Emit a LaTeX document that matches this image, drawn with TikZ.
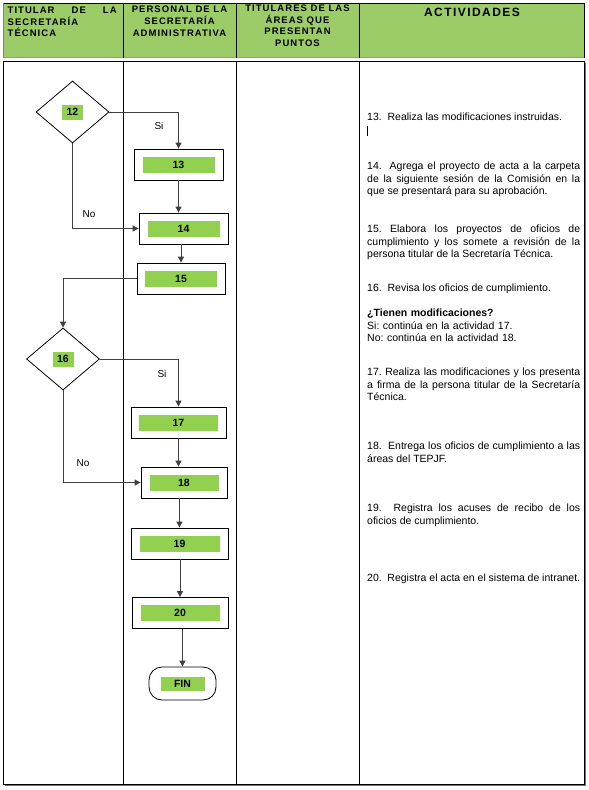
\documentclass[tikz,border=0pt]{standalone}
\usepackage{fontspec}
\setmainfont{Liberation Sans}
\usetikzlibrary{shapes.geometric,arrows.meta}
\setlength{\parindent}{0pt}
\frenchspacing
\hyphenpenalty=10000
\exhyphenpenalty=10000
\definecolor{hdrgreen}{RGB}{155,204,104}
\definecolor{hdrline}{RGB}{112,190,64}
\definecolor{lblgreen}{RGB}{146,208,80}
\newcommand{\hdrfont}{\fontsize{9.5}{11.8}\selectfont\bfseries\addfontfeature{LetterSpace=11}}
\newcommand{\lbl}[3][16]{{\setlength{\fboxsep}{0pt}\colorbox{lblgreen}{\parbox[c][#1pt][c]{#2pt}{\centering\fontsize{10.5}{12}\selectfont\bfseries #3}}}}
\begin{document}
\begin{tikzpicture}[x=1pt,y=-1pt,
  stepbox/.style={draw,line width=0.8pt,minimum height=31pt,inner sep=0pt,fill=white},
  decision/.style={draw,line width=0.8pt,diamond,minimum width=73pt,minimum height=62pt,inner sep=0pt},
  endbox/.style={draw,line width=0.8pt,rounded corners=13pt,minimum width=67pt,minimum height=33pt,inner sep=0pt},
  flow/.style={draw=black!75,line width=0.9pt,-{Triangle[length=6pt,width=6pt]}},
  act/.style={anchor=north west,inner sep=0pt,text width=213pt,align=justify,font=\fontsize{10.5}{12.3}\selectfont},
  hdr/.style={inner sep=0pt,font=\hdrfont},
  tag/.style={inner sep=0pt,font=\fontsize{10}{12}\selectfont}]
\useasboundingbox (0,0) rectangle (589,790);

% header
\fill[hdrgreen] (3,3) rectangle (584,58);
\draw[hdrline,line width=1pt] (3,57.5) -- (584,57.5);
\draw[line width=0.6pt] (3,3) -- (584,3) -- (584,58);
\draw[black!50,line width=0.6pt] (3,3) -- (3,58);
\foreach \x in {123,236,359}
  \draw[line width=0.6pt] (\x,3) -- (\x,58);

\node[hdr,anchor=north west,align=left] (h1) at (7.5,6.5) {\makebox[109pt][s]{TITULAR DE LA}\\SECRETARÍA\\TÉCNICA};
\node[hdr,anchor=north,align=center] (h2) at (179.5,6) {PERSONAL DE LA\\SECRETARÍA\\ADMINISTRATIVA};
\node[hdr,anchor=north,align=center] (h3) at (297.5,4.5) {TITULARES DE LAS\\ÁREAS QUE\\PRESENTAN\\PUNTOS};
\node[hdr,anchor=north,font=\fontsize{12}{14}\selectfont\bfseries\addfontfeature{LetterSpace=12}] (h4) at (472,7.5) {ACTIVIDADES};

% body
\fill[black!55] (5,63) rectangle (586,786);
\draw[fill=white,line width=0.8pt] (3,61) rectangle (584,784);
\foreach \x in {123,236,359}
  \draw[line width=0.8pt] (\x,61) -- (\x,784);

% flowchart
\node[decision] (d12) at (72.5,112) {\lbl[15]{21}{12}};
\node[stepbox,minimum width=89pt] (a13) at (178.5,164.5) {\lbl{72}{13}};
\node[stepbox,minimum width=89pt] (a14) at (183.5,228.5) {\lbl{72}{14}};
\node[stepbox,minimum width=88pt] (a15) at (181,278.5) {\lbl{72}{15}};
\node[decision] (d16) at (63,359) {\lbl[15]{21}{16}};
\node[stepbox,minimum width=95pt] (a17) at (178.5,422.5) {\lbl{79}{17}};
\node[stepbox,minimum width=86pt] (a18) at (184,482.5) {\lbl{69}{18}};
\node[stepbox,minimum width=97pt] (a19) at (179.5,543.5) {\lbl{80}{19}};
\node[stepbox,minimum width=96pt] (a20) at (180,613) {\lbl{79}{20}};
\node[endbox] (fin) at (182.5,683.5) {\lbl[14]{44}{FIN}};

\path[flow] (d12.east) -| (a13.north);
\path[flow] (a13.south) -- (a13.south |- a14.north);
\path[flow] (d12.south) |- (a14.west);
\path[flow] (a15.north |- a14.south) -- (a15.north);
\path[flow] (a15.west) -| (d16.north);
\path[flow] (d16.east) -| (a17.north);
\path[flow] (a17.south) -- (a17.south |- a18.north);
\path[flow] (d16.south) |- (a18.west);
\path[flow] (a19.north |- a18.south) -- (a19.north);
\path[flow] (a20.north |- a19.south) -- (a20.north);
\path[flow] (fin.north |- a20.south) -- (fin.north);

\node[tag] (si12) at (159,126) {Si};
\node[tag] (no12) at (89,214) {No};
\node[tag] (si16) at (162,374) {Si};
\node[tag] (no16) at (83,463) {No};

% actividades
\node[act] (t13) at (367,112) {\strut 13.\ \ Realiza las modificaciones instruidas.};
\draw[line width=0.7pt] (367.5,126) -- (367.5,136);
\node[act] (t14) at (367,161) {\strut 14.\ \ Agrega el proyecto de acta a la carpeta\linebreak de la siguiente sesión de la Comisión en la\linebreak que se presentará para su aprobación.};
\node[act] (t15) at (367,224) {\strut 15.\ Elabora los proyectos de oficios de\linebreak cumplimiento y los somete a revisión de la\linebreak persona titular de la Secretaría Técnica.};
\node[act] (t16) at (367,283) {\strut 16.\ \ Revisa los oficios de cumplimiento.};
\node[act,align=left] (q16) at (367,308) {\strut\textbf{¿Tienen modificaciones?}\\Si: continúa en la actividad 17.\\No: continúa en la actividad 18.};
\node[act] (t17) at (367,367) {\strut 17. Realiza las modificaciones y los presenta\linebreak a firma de la persona titular de la Secretaría\linebreak Técnica.};
\node[act] (t18) at (367,441) {\strut 18.\ \ Entrega los oficios de cumplimiento a las\linebreak áreas del TEPJF.};
\node[act] (t19) at (367,503) {\strut 19.\ \ Registra los acuses de recibo de los\linebreak oficios de cumplimiento.};
\node[act] (t20) at (367,573) {\strut 20.\ \ Registra el acta en el sistema de intranet.};
\end{tikzpicture}
\end{document}
